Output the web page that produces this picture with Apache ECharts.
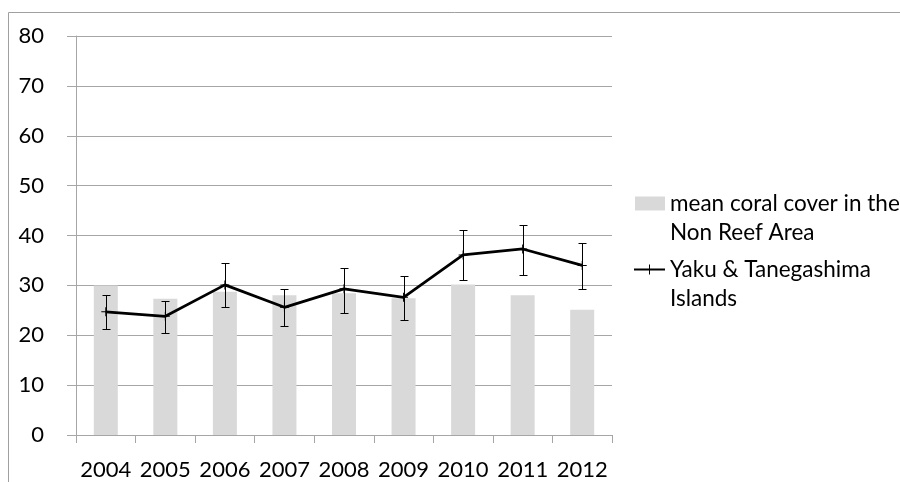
<!DOCTYPE html>
<html>
<head>
<meta charset="utf-8">
<script src="https://cdn.jsdelivr.net/npm/echarts@6/dist/echarts.min.js"></script>
<style>
  html, body { margin: 0; padding: 0; background: #fff; }
  #chart { width: 900px; height: 482px; }
</style>
</head>
<body>
<div id="chart"></div>
<script>
// Survey years
const years = ['2004', '2005', '2006', '2007', '2008', '2009', '2010', '2011', '2012'];

// Mean coral cover (%) in the Non Reef Area
const nonReefCover = [30.0, 27.3, 28.7, 28.0, 28.4, 27.4, 30.2, 28.0, 25.1];

// Coral cover (%) at Yaku & Tanegashima Islands, with error bar limits
const yakuCover = [24.7, 23.8, 30.1, 25.6, 29.3, 27.6, 36.1, 37.3, 34.0];
const yakuUpper = [28.1, 26.9, 34.5, 29.3, 33.5, 31.9, 41.1, 42.2, 38.5];
const yakuLower = [21.2, 20.5, 25.7, 21.8, 24.5, 23.1, 31.0, 32.1, 29.2];

// Y axis ticks
const yMin = 0, yMax = 80, yStep = 10;

const nameBars = 'mean coral cover in the\nNon Reef Area';
const nameLine = 'Yaku & Tanegashima\nIslands';

const FONT = 'Lato, "Open Sans", sans-serif';
const GRID_COLOR = '#a6a6a6';

const errorData = years.map((y, i) => [i, yakuLower[i], yakuUpper[i]]);

// Legend text: a blank leading line keeps the first text line level with the icon
const legendText = {
  fontFamily: FONT, fontSize: 22.5, color: '#000', lineHeight: 29
};
const legendFormatter = name => ' \n' + name;

const chart = echarts.init(document.getElementById('chart'), null, { renderer: 'canvas' });

chart.setOption({
  animation: false,
  backgroundColor: '#ffffff',
  textStyle: { fontFamily: FONT },
  grid: { left: 76, right: 288, top: 36, bottom: 47, containLabel: false },
  graphic: [{
    type: 'rect',
    silent: true,
    shape: { x: 8.5, y: 12.5, width: 900, height: 480 },
    style: { fill: 'none', stroke: '#a0a0a0', lineWidth: 1 },
    z: -10
  }],
  legend: [{
    data: [{ name: nameBars, icon: 'rect' }],
    left: 635,
    top: 160,
    padding: 0,
    itemWidth: 30,
    itemHeight: 14,
    itemGap: 0,
    selectedMode: false,
    formatter: legendFormatter,
    textStyle: legendText
  }, {
    data: [{ name: nameLine, icon: 'path://M0,4H31V6H0Z M15,0H16V10H15Z' }],
    left: 634,
    top: 226,
    padding: 0,
    itemWidth: 31,
    itemHeight: 10,
    itemGap: 0,
    selectedMode: false,
    formatter: legendFormatter,
    textStyle: legendText
  }],
  xAxis: {
    type: 'category',
    data: years,
    boundaryGap: true,
    axisLine: { show: true, lineStyle: { color: GRID_COLOR, width: 1 } },
    axisTick: { show: true, alignWithLabel: false, interval: 0, length: 8, lineStyle: { color: GRID_COLOR } },
    axisLabel: { color: '#000', fontSize: 22, fontFamily: FONT, margin: 24, interval: 0 },
    splitLine: { show: false }
  },
  yAxis: {
    type: 'value',
    min: yMin,
    max: yMax,
    interval: yStep,
    axisLine: { show: true, lineStyle: { color: GRID_COLOR, width: 1 } },
    axisTick: { show: true, inside: false, length: 9, lineStyle: { color: GRID_COLOR } },
    axisLabel: { color: '#000', fontSize: 22, fontFamily: FONT, margin: 32 },
    splitLine: { show: true, lineStyle: { color: GRID_COLOR, width: 1 } }
  },
  series: [{
    name: nameBars,
    type: 'bar',
    data: nonReefCover,
    barWidth: 24,
    itemStyle: { color: '#d9d9d9' },
    z: 1
  }, {
    name: 'error',
    type: 'custom',
    data: errorData,
    z: 3,
    renderItem: function (params, api) {
      const x = api.value(0);
      const lo = api.coord([x, api.value(1)]);
      const hi = api.coord([x, api.value(2)]);
      const cx = Math.round(lo[0]) + 0.5;
      const yLo = Math.round(lo[1]) + 0.5;
      const yHi = Math.round(hi[1]) + 0.5;
      const cap = 4;
      const style = { stroke: '#000', lineWidth: 1 };
      return {
        type: 'group',
        children: [
          { type: 'line', shape: { x1: cx, y1: yHi, x2: cx, y2: yLo }, style: style },
          { type: 'line', shape: { x1: cx - cap, y1: yHi, x2: cx + cap, y2: yHi }, style: style },
          { type: 'line', shape: { x1: cx - cap, y1: yLo, x2: cx + cap, y2: yLo }, style: style }
        ]
      };
    }
  }, {
    name: nameLine,
    type: 'line',
    data: yakuCover,
    z: 4,
    symbol: 'path://M4,0H5V9H4Z M0,4H9V5H0Z',
    symbolSize: 9,
    showSymbol: true,
    itemStyle: { color: '#000' },
    lineStyle: { color: '#000', width: 2.75 }
  }]
});
</script>
</body>
</html>
